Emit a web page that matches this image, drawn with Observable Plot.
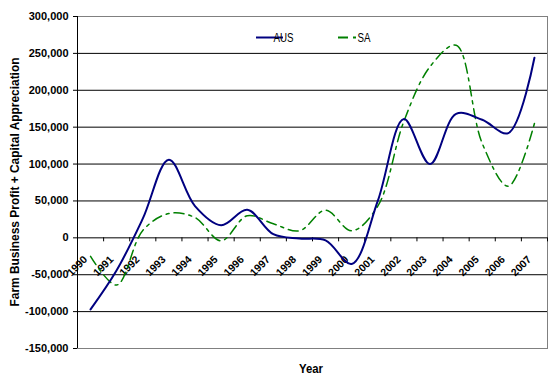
<!DOCTYPE html>
<html>
<head>
<meta charset="utf-8">
<script src="https://cdn.jsdelivr.net/npm/d3@7"></script>
<script src="https://cdn.jsdelivr.net/npm/@observablehq/plot@0.6"></script>
<style>
  html, body { margin: 0; padding: 0; background: #fff; }
  #chart { position: relative; width: 553px; height: 388px; }
</style>
</head>
<body>
<div id="chart"></div>
<script>
const years = [1990, 1991, 1992, 1993, 1994, 1995, 1996, 1997, 1998, 1999, 2000, 2001, 2002, 2003, 2004, 2005, 2006, 2007];
const aus = [-97000, -44000, 26000, 106000, 43000, 17000, 38000, 5000, -1000, -3500, -35500, 50000, 161000, 100000, 168000, 160000, 142000, 244000];
const sa = [-25000, -64000, 10000, 33000, 27500, -4000, 30000, 19000, 9500, 37500, 9500, 43000, 158000, 232000, 261000, 128000, 70000, 155000];
const yTicks = [-150000, -100000, -50000, 0, 50000, 100000, 150000, 200000, 250000, 300000];
const gridTicks = [-100000, -50000, 0, 50000, 100000, 150000, 200000, 250000];
const seriesNames = ["AUS", "SA"];
const seriesColors = ["#000080", "#008000"];
const yTitle = "Farm Business Profit + Capital Appreciation";
const xTitle = "Year";

const rows = [];
years.forEach((yr, i) => {
  rows.push({year: yr, value: aus[i], series: "AUS"});
  rows.push({year: yr, value: sa[i], series: "SA"});
});
const boundaries = years.map(y => y + 0.5);
const fmt = d => d.toLocaleString("en-US");
const font = "Arial, 'Liberation Sans', sans-serif";

const chart = Plot.plot({
  width: 553,
  height: 388,
  marginLeft: 77,
  marginRight: 6,
  marginTop: 16,
  marginBottom: 40,
  style: {fontFamily: font, background: "#fff", color: "#000"},
  x: {domain: [years[0] - 0.5, years[years.length - 1] + 0.5], axis: null},
  y: {domain: [yTicks[0], yTicks[yTicks.length - 1]], axis: null},
  marks: [
    Plot.ruleY(gridTicks, {stroke: "#000", strokeWidth: 1}),
    Plot.frame({stroke: "#808080", strokeWidth: 1}),
    Plot.ruleX([years[0] - 0.5], {stroke: "#000", strokeWidth: 1}),
    Plot.ruleX(boundaries, {y1: 0, y2: 0, insetBottom: -4, stroke: "#000"}),
    Plot.axisY({ticks: yTicks, tickFormat: fmt, tickSize: 4, tickPadding: 5, fontWeight: "bold", fontSize: 11, label: null, stroke: "#000"}),
    Plot.text(years, {x: d => d, y: 0, text: d => String(d), rotate: -45, textAnchor: "end", dx: -5, dy: 20, fontWeight: "bold", fontSize: 10.5, fill: "#000"}),
    Plot.line(rows.filter(d => d.series === "SA"), {x: "year", y: "value", stroke: seriesColors[1], strokeWidth: 1.5, strokeDasharray: "10,5,3,5", curve: "catmull-rom"}),
    Plot.line(rows.filter(d => d.series === "AUS"), {x: "year", y: "value", stroke: seriesColors[0], strokeWidth: 2, curve: "catmull-rom"})
  ]
});
document.getElementById("chart").appendChild(chart);

const svg = d3.select(chart);
// Axis titles
svg.append("text")
  .attr("transform", "translate(19,182) rotate(-90)")
  .attr("text-anchor", "middle")
  .attr("font-family", font)
  .attr("font-weight", "bold")
  .attr("font-size", 13)
  .attr("textLength", 249)
  .attr("lengthAdjust", "spacingAndGlyphs")
  .text(yTitle);
svg.append("text")
  .attr("x", 311)
  .attr("y", 373)
  .attr("text-anchor", "middle")
  .attr("font-family", font)
  .attr("font-weight", "bold")
  .attr("font-size", 13)
  .attr("textLength", 24)
  .attr("lengthAdjust", "spacingAndGlyphs")
  .text(xTitle);

// Legend
const leg = svg.append("g").attr("font-family", font).attr("font-size", 12);
const legX = [256, 338];
const legDash = [null, "10,5,3,5"];
seriesNames.forEach((name, i) => {
  leg.append("line")
    .attr("x1", legX[i]).attr("x2", legX[i] + (i === 0 ? 27 : 19))
    .attr("y1", 37.5).attr("y2", 37.5)
    .attr("stroke", seriesColors[i])
    .attr("stroke-width", 2)
    .attr("stroke-dasharray", legDash[i]);
  leg.append("text")
    .attr("x", legX[i] + (i === 0 ? 27.5 : 26))
    .attr("y", 42)
    .attr("fill", "#000")
    .attr("textLength", i === 0 ? 20 : 13)
    .attr("lengthAdjust", "spacingAndGlyphs")
    .text(name);
});
</script>
</body>
</html>
